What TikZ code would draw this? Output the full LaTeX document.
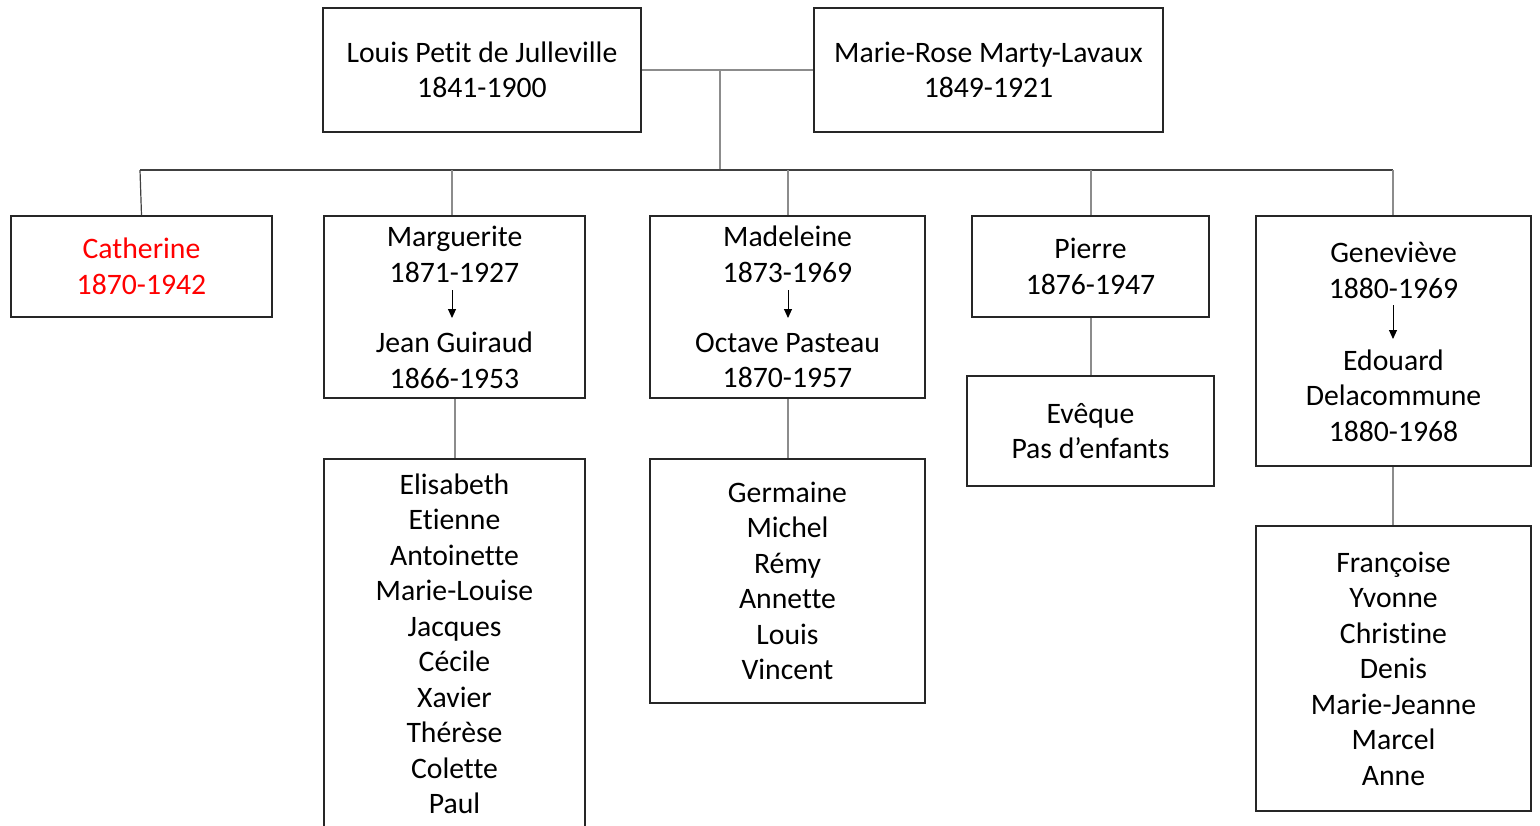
\documentclass[tikz,border=0pt]{standalone}
\usepackage{fontspec}
\setmainfont{Carlito}[Ligatures={NoCommon}]
\usetikzlibrary{arrows.meta}
\definecolor{boxc}{HTML}{262626}
\definecolor{linedark}{HTML}{404040}
\definecolor{linegray}{HTML}{8C8C8C}
\definecolor{redtxt}{HTML}{FF0000}
\begin{document}
\begin{tikzpicture}[x=1pt,y=-1pt,
  box/.style={draw=boxc, line width=1.5pt, inner sep=0pt, fill=white},
  txt/.style={align=center, inner sep=0pt, font=\fontsize{29.7}{35.5}\selectfont, text=black},
  conn/.style={draw=linegray, line width=1.2pt},
  conndark/.style={draw=linedark, line width=1.2pt},
  spouse/.style={-{Triangle[length=9pt,width=8pt]}, line width=1pt, draw=black},
]
\useasboundingbox (0,0) rectangle (1540,825);
\clip (0,0) rectangle (1540,825);

% parents
\node[box, minimum width=318pt, minimum height=124pt] (louis) at (482,70) {};
\node[txt] at (louis.center) {Louis Petit de Julleville\\1841-1900};
\node[box, minimum width=349pt, minimum height=124pt] (marie) at (988.5,70) {};
\node[txt] at (marie.center) {Marie-Rose Marty-Lavaux\\1849-1921};

% children row
\node[box, minimum width=261pt, minimum height=101pt] (cath) at (141.5,266.5) {};
\node[txt, text=redtxt] at (cath.center) {Catherine\\1870-1942};

\node[box, minimum width=261pt, minimum height=182pt] (marg) at (454.5,307) {};
\node[txt] (margA) at (454.5,254.5) {Marguerite\\1871-1927};
\node[txt] (margB) at (454.5,360.5) {Jean Guiraud\\1866-1953};

\node[box, minimum width=275pt, minimum height=182pt] (made) at (787.5,307) {};
\node[txt] (madeA) at (787.5,254.5) {Madeleine\\1873-1969};
\node[txt] (madeB) at (787.5,360.5) {Octave Pasteau\\1870-1957};

\node[box, minimum width=237pt, minimum height=101pt] (pierre) at (1090.5,266.5) {};
\node[txt] at (pierre.center) {Pierre\\1876-1947};

\node[box, minimum width=275pt, minimum height=250pt] (gene) at (1393.5,341) {};
\node[txt] (geneA) at (1393.5,270.5) {Geneviève\\1880-1969};
\node[txt] (geneB) at (1393.5,395.5) {Edouard\\Delacommune\\1880-1968};

% grandchildren
\node[box, minimum width=261pt, minimum height=370pt] (kidsM) at (454.5,644) {};
\node[txt] at (kidsM.center) {Elisabeth\\Etienne\\Antoinette\\Marie-Louise\\Jacques\\Cécile\\Xavier\\Thérèse\\Colette\\Paul};

\node[box, minimum width=275pt, minimum height=244pt] (kidsD) at (787.5,581) {};
\node[txt] at (kidsD.center) {Germaine\\Michel\\Rémy\\Annette\\Louis\\Vincent};

\node[box, minimum width=247pt, minimum height=110pt] (eveque) at (1090.5,431) {};
\node[txt] at (eveque.center) {Evêque\\Pas d’enfants};

\node[box, minimum width=275pt, minimum height=285pt] (kidsG) at (1393.5,668.5) {};
\node[txt] at (kidsG.center) {Françoise\\Yvonne\\Christine\\Denis\\Marie-Jeanne\\Marcel\\Anne};

% connectors
\coordinate (mid) at (720,70);
\coordinate (bar) at (720,170);
\coordinate (dC) at (140,170);
\coordinate (dM) at (452,170);
\coordinate (dD) at (788,170);
\coordinate (dP) at (1091,170);
\coordinate (dG) at (1393,170);

\draw[conn] (louis.east) -- (marie.west);
\draw[conn] (mid) -- (bar);
\draw[conndark] (dC) -- (dG);
\draw[conndark] (dC) -- (cath.north);
\draw[conn] (dM) -- (dM |- marg.north);
\draw[conn] (dD) -- (dD |- made.north);
\draw[conn] (dP) -- (dP |- pierre.north);
\draw[conn] (dG) -- (dG |- gene.north);

\draw[conn] (marg.south -| 455,0) -- (kidsM.north -| 455,0);
\draw[conn] (made.south -| 788,0) -- (kidsD.north -| 788,0);
\draw[conn] (pierre.south -| 1091,0) -- (eveque.north -| 1091,0);
\draw[conn] (gene.south -| 1393,0) -- (kidsG.north -| 1393,0);

% spouse arrows
\coordinate (sM) at (452,290); \coordinate (eM) at (452,318);
\coordinate (sD) at (788,290); \coordinate (eD) at (788,318);
\coordinate (sG) at (1393,305); \coordinate (eG) at (1393,339);
\draw[spouse] (sM) -- (eM);
\draw[spouse] (sD) -- (eD);
\draw[spouse] (sG) -- (eG);
\end{tikzpicture}
\end{document}
